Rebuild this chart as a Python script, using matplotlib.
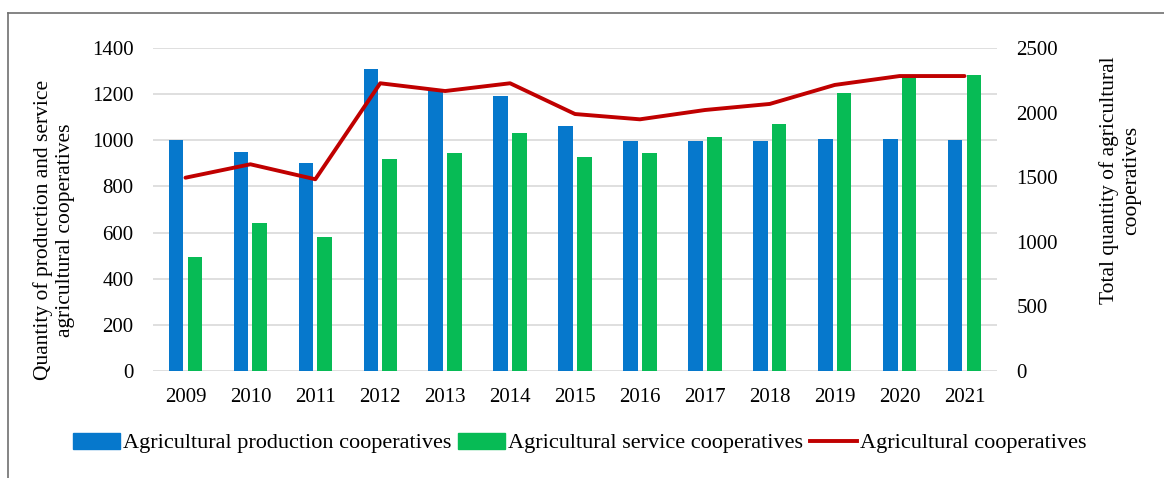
import numpy as np
import matplotlib
matplotlib.use('Agg')
import matplotlib.pyplot as plt
from matplotlib.lines import Line2D

plt.rcParams['font.family'] = ['Liberation Serif', 'DejaVu Serif']

years = ['2009', '2010', '2011', '2012', '2013', '2014', '2015',
         '2016', '2017', '2018', '2019', '2020', '2021']
production = [1000, 950, 903, 1308, 1218, 1192, 1063, 998, 997, 997, 1004, 1007, 1002]
service = [494, 641, 581, 919, 945, 1033, 926, 946, 1016, 1071, 1206, 1274, 1282]
total = [1496, 1600, 1484, 2227, 2167, 2227, 1989, 1948, 2020, 2067, 2214, 2283, 2283]

blue = '#0678cc'
green = '#07bb55'
red = '#c00000'
grid = '#d9d9d9'
fs_tick = 15
fs = 15.5

fig = plt.figure(figsize=(11.64, 4.78), dpi=100)
ax = fig.add_axes([153 / 1164, 1 - 371 / 478, (997 - 153) / 1164, (371 - 48) / 478])
ax2 = ax.twinx()

x = np.arange(len(years))
w = 0.225
ax.bar(x - 0.145, production, w, color=blue, zorder=2)
ax.bar(x + 0.145, service, w, color=green, zorder=2)
ax2.plot(x, total, color=red, lw=2.8, solid_capstyle='round', zorder=3)

ax.set_xlim(-0.5, len(years) - 0.5)
ax.set_ylim(0, 1400)
ax.set_yticks(range(0, 1401, 200))
ax2.set_ylim(0, 2500)
ax2.set_yticks(range(0, 2501, 500))
ax.set_xticks(x)
ax.set_xticklabels(years)
ax.yaxis.grid(True, color=grid, lw=1.2, zorder=0)
ax.set_axisbelow(True)

for a in (ax, ax2):
    for s in a.spines.values():
        s.set_visible(False)
    a.tick_params(length=0, labelsize=fs_tick)
ax.tick_params(axis='y', pad=14)
ax.tick_params(axis='x', pad=12)
ax2.tick_params(axis='y', pad=14)

fig.text(54 / 1164, 1 - 230 / 478,
         'Quantity of production and service\nagricultural cooperatives',
         rotation=90, ha='center', va='center', fontsize=fs, linespacing=1.25)
fig.text(1120 / 1164, 1 - 180 / 478,
         'Total quantity of agricultural\ncooperatives',
         rotation=90, ha='center', va='center', fontsize=fs, linespacing=1.25)

handles = [plt.Rectangle((0, 0), 1, 1, color=blue),
           plt.Rectangle((0, 0), 1, 1, color=green),
           Line2D([0], [0], color=red, lw=2.8)]
labels = ['Agricultural production cooperatives',
          'Agricultural service cooperatives',
          'Agricultural cooperatives']
fig.legend(handles, labels, loc='center', bbox_to_anchor=(580 / 1164, 1 - 443 / 478),
           ncol=3, frameon=False, fontsize=16, handlelength=2.1, handleheight=0.75,
           handletextpad=0.15, columnspacing=0.3)

# partial outer frame
fig.add_artist(Line2D([8 / 1164, 8 / 1164], [0, 1 - 13 / 478],
                      transform=fig.transFigure, color='#707070', lw=1.2))
fig.add_artist(Line2D([8 / 1164, 1], [1 - 13 / 478, 1 - 13 / 478],
                      transform=fig.transFigure, color='#707070', lw=1.2))

fig.savefig('out.png', dpi=100)
